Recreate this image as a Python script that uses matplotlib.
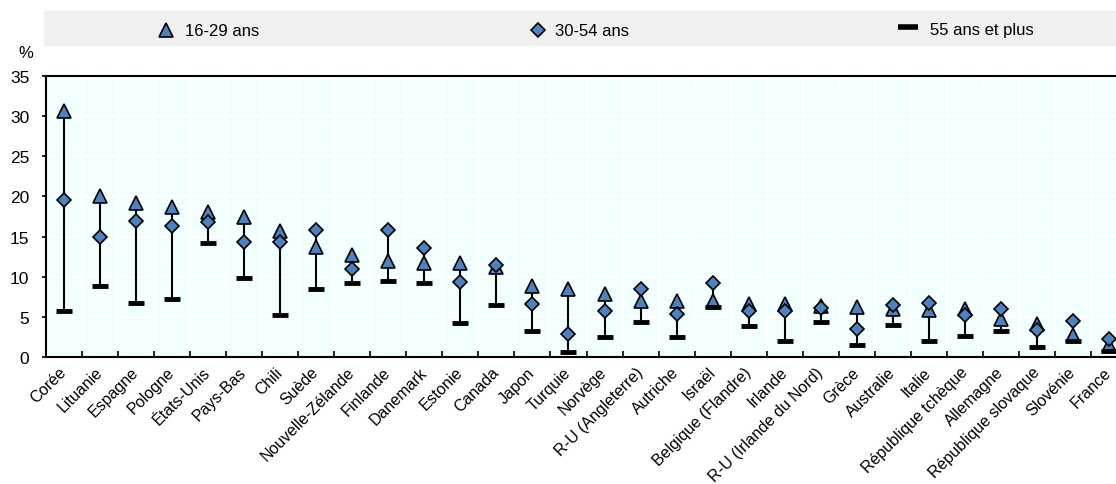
import matplotlib
matplotlib.use('Agg')
import matplotlib.pyplot as plt
import matplotlib.patches as patches
from matplotlib.lines import Line2D
import numpy as np

plt.rcParams['font.family'] = ['Liberation Sans', 'DejaVu Sans']

# Données (en %)
pays = ['Corée', 'Lituanie', 'Espagne', 'Pologne', 'États-Unis', 'Pays-Bas', 'Chili', 'Suède',
        'Nouvelle-Zélande', 'Finlande', 'Danemark', 'Estonie', 'Canada', 'Japon', 'Turquie',
        'Norvège', 'R-U (Angleterre)', 'Autriche', 'Israël', 'Belgique (Flandre)', 'Irlande',
        'R-U (Irlande du Nord)', 'Grèce', 'Australie', 'Italie', 'République tchèque',
        'Allemagne', 'République slovaque', 'Slovénie', 'France']
age_16_29 = [30.7, 20.0, 19.2, 18.7, 18.1, 17.5, 15.7, 13.7, 12.7, 12.0, 11.7, 11.7, 11.2, 8.8, 8.5,
             7.9, 7.0, 7.0, 7.0, 6.6, 6.6, 6.3, 6.2, 6.0, 5.8, 6.0, 4.7, 4.1, 2.8, 1.5]
age_30_54 = [19.5, 15.0, 17.0, 16.3, 16.8, 14.3, 14.3, 15.8, 11.0, 15.8, 13.6, 9.3, 11.4, 6.6, 2.9,
             5.7, 8.5, 5.4, 9.2, 5.7, 5.7, 6.1, 3.5, 6.5, 6.7, 5.2, 6.0, 3.4, 4.5, 2.3]
age_55_plus = [5.7, 8.9, 6.7, 7.2, 14.2, 9.9, 5.2, 8.5, 9.2, 9.5, 9.2, 4.2, 6.5, 3.2, 0.6,
               2.5, 4.3, 2.5, 6.2, 3.8, 2.0, 4.3, 1.5, 4.0, 2.0, 2.6, 3.3, 1.3, 2.0, 0.7]

bleu = '#4F81BD'
W, H = 1116, 485
fig = plt.figure(figsize=(W / 100, H / 100), dpi=100)
ax = fig.add_axes([46 / W, 1 - 358 / H, (1127 - 46) / W, (358 - 77) / H])
ax.set_facecolor('#F2FFFF')

x = np.arange(len(pays))
lo = np.minimum(np.minimum(age_16_29, age_30_54), age_55_plus)
hi = np.maximum(np.maximum(age_16_29, age_30_54), age_55_plus)
ax.vlines(x, lo, hi, color='black', lw=1.5, zorder=2)
ax.plot(x, age_16_29, ls='none', marker='^', ms=10, mfc=bleu, mec='black', mew=1.2, zorder=3)
ax.plot(x, age_30_54, ls='none', marker='D', ms=7.5, mfc=bleu, mec='black', mew=1.2, zorder=4)
ax.plot(x, age_55_plus, ls='none', marker='_', ms=11, mec='black', mew=3.5, zorder=5)

ax.set_xlim(-0.5, len(pays) - 0.5)
ax.set_ylim(0, 35)
ax.set_yticks(np.arange(0, 36, 5))
ax.set_xticks(x)
ax.set_xticklabels(pays, rotation=45, ha='right', va='center', rotation_mode='anchor',
                   fontsize=11.5)
ax.set_xticks(np.arange(-0.5, len(pays), 1), minor=True)
ax.tick_params(axis='x', which='major', length=0, pad=9)
ax.tick_params(axis='x', which='minor', direction='in', length=4, width=1.2)
ax.tick_params(axis='y', direction='out', length=3, width=1.2, pad=9, labelsize=12.5)

ax.grid(True, axis='y', color='white', lw=1.5)
ax.grid(True, axis='x', which='minor', color='white', lw=1.5)
ax.set_axisbelow(True)
for s in ['left', 'bottom', 'top']:
    ax.spines[s].set_linewidth(1.5)
ax.spines['right'].set_visible(False)

fig.text(18 / W, 1 - 53 / H, '%', fontsize=12, ha='left', va='center')

# Légende
fig.add_artist(patches.Rectangle((44 / W, 1 - 46 / H), (W - 44) / W, 34 / H,
                                 transform=fig.transFigure, color='#F0F0F0', zorder=0))
ly = 1 - 31 / H
fig.add_artist(Line2D([166 / W], [ly], marker='^', ms=10, mfc=bleu, mec='black', mew=1.2,
                      transform=fig.transFigure))
fig.text(185 / W, ly, '16-29 ans', fontsize=12, va='center')
fig.add_artist(Line2D([538 / W], [ly], marker='D', ms=7.5, mfc=bleu, mec='black', mew=1.2,
                      transform=fig.transFigure))
fig.text(555 / W, ly, '30-54 ans', fontsize=12, va='center')
fig.add_artist(Line2D([908 / W], [ly + 3 / H], marker='_', ms=15, mec='black', mew=4,
                      transform=fig.transFigure))
fig.text(930 / W, ly, '55 ans et plus', fontsize=12, va='center')

fig.savefig('out.png', dpi=100, facecolor='white')
